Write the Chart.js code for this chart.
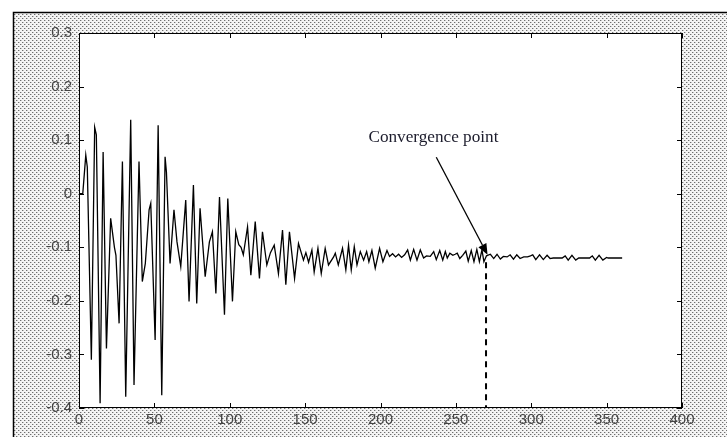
<!DOCTYPE html>
<html>
<head>
<meta charset="utf-8">
<script src="https://cdn.jsdelivr.net/npm/chart.js@4"></script>
<style>
    html, body { margin: 0; padding: 0; background: #fff; }
    canvas { display: block; }
</style>
</head>
<body>
<canvas id="convergenceChart" width="727" height="437"></canvas>
<script>
        // Datos (extremos de la oscilacion)
        const sampleX = [
            0, 2.5, 4.5, 5.5, 8.2, 10.4, 11.5, 14, 16, 18.2,
            21, 23.5, 24.5, 26.6, 28.8, 31, 34.3, 36.5, 39.8, 42,
            44, 46.5, 47.6, 50.5, 52.5, 54.9, 57.1, 58, 60.4, 63,
            65, 67.5, 70.8, 73, 75.9, 78.1, 80.3, 83.7, 86.5, 88.5,
            90.8, 93.2, 96.5, 98.7, 101.8, 104, 106, 107.5, 109, 111.8,
            114, 116.9, 119.7, 121.7, 124.6, 127, 129.5, 132.3, 135, 137.2,
            139.6, 143, 145.6, 148.9, 150.5, 152.3, 154.5, 156, 158.5, 160.7,
            163.3, 165.5, 168.9, 170, 172, 174.8, 177, 178.8, 180.6, 182.6,
            184.4, 186.6, 188.8, 190.8, 192.3, 194.3, 196.5, 199.4, 201.6, 204.3,
            206, 208, 210, 212, 214, 216, 218, 219.8, 222, 224.2,
            226.4, 228.6, 230.5, 233, 235.3, 237, 239.3, 241.3, 243, 244.3,
            246, 248, 249.5, 250.9, 252.6, 254.5, 256.6, 258.2, 260.2, 262,
            263.9, 265.6, 267.3, 268.6, 270.3, 272.9, 275.1, 277.3, 279.5, 281.5,
            284, 286, 288.2, 290.4, 292.6, 295, 297.5, 299.5, 301, 303,
            305.5, 308, 310.5, 312.5, 314.5, 320.5, 322.5, 324.5, 327, 329.5,
            331.5, 333, 338.7, 340.5, 342.5, 345, 347.5, 350, 351, 360.3
        ];
        const sampleY = [
            0.0, 0.0, 0.072, 0.05, -0.31, 0.124, 0.11, -0.391, 0.078, -0.289,
            -0.046, -0.1, -0.115, -0.242, 0.06, -0.379, 0.138, -0.357, 0.06, -0.164,
            -0.13, -0.03, -0.018, -0.273, 0.128, -0.376, 0.069, 0.04, -0.13, -0.03,
            -0.09, -0.136, -0.012, -0.201, 0.016, -0.205, -0.027, -0.155, -0.09, -0.071,
            -0.186, -0.006, -0.226, -0.009, -0.201, -0.071, -0.095, -0.1, -0.114, -0.062,
            -0.152, -0.052, -0.158, -0.071, -0.133, -0.11, -0.096, -0.149, -0.068, -0.17,
            -0.071, -0.158, -0.093, -0.124, -0.11, -0.128, -0.105, -0.146, -0.102, -0.149,
            -0.102, -0.133, -0.118, -0.111, -0.133, -0.102, -0.142, -0.096, -0.142, -0.099,
            -0.133, -0.108, -0.124, -0.108, -0.127, -0.106, -0.139, -0.102, -0.127, -0.106,
            -0.117, -0.112, -0.118, -0.113, -0.119, -0.114, -0.105, -0.124, -0.104, -0.124,
            -0.105, -0.12, -0.116, -0.117, -0.108, -0.123, -0.106, -0.124, -0.108, -0.12,
            -0.111, -0.115, -0.113, -0.111, -0.121, -0.115, -0.107, -0.126, -0.106, -0.127,
            -0.104, -0.127, -0.105, -0.127, -0.116, -0.113, -0.121, -0.113, -0.122, -0.117,
            -0.118, -0.114, -0.122, -0.114, -0.121, -0.118, -0.118, -0.116, -0.114, -0.123,
            -0.114, -0.123, -0.115, -0.121, -0.12, -0.12, -0.116, -0.124, -0.115, -0.124,
            -0.12, -0.12, -0.12, -0.116, -0.124, -0.115, -0.124, -0.119, -0.12, -0.12
        ];

        // Etiquetas de los ejes
        const xTicks = [0, 50, 100, 150, 200, 250, 300, 350, 400];
        const yTicks = [-0.4, -0.3, -0.2, -0.1, 0, 0.1, 0.2, 0.3];

        // Anotacion (coordenadas en unidades de datos)
        const convergenceX = 270;
        const convergenceY = -0.128;
        const arrowFrom = { x: 237, y: 0.068 };
        const arrowTo = { x: 271, y: -0.114 };
        const labelText = 'Convergence point';
        const labelAt = { x: 192, y: 0.097 };

        // Fondo punteado (trama de semitono)
        function makeDotPattern(ctx) {
            const tile = document.createElement('canvas');
            tile.width = 4;
            tile.height = 4;
            const t = tile.getContext('2d');
            t.fillStyle = '#f4f4f4';
            t.fillRect(0, 0, 4, 4);
            t.fillStyle = '#6e6e6e';
            t.fillRect(0, 0, 1, 1);
            t.fillRect(2, 2, 1, 1);
            t.fillStyle = '#c4c4c4';
            t.fillRect(1, 0, 1, 1);
            t.fillRect(3, 2, 1, 1);
            return ctx.createPattern(tile, 'repeat');
        }

        const framePlugin = {
            id: 'framePlugin',
            beforeDraw(chart) {
                const ctx = chart.ctx;
                const area = chart.chartArea;
                ctx.save();
                ctx.fillStyle = '#ffffff';
                ctx.fillRect(0, 0, chart.width, chart.height);
                ctx.fillStyle = makeDotPattern(ctx);
                ctx.fillRect(13, 12, chart.width - 13, chart.height - 12);
                ctx.strokeStyle = '#000';
                ctx.lineWidth = 1.5;
                ctx.beginPath();
                ctx.moveTo(13.5, chart.height);
                ctx.lineTo(13.5, 12.5);
                ctx.lineTo(chart.width, 12.5);
                ctx.stroke();
                ctx.fillStyle = '#ffffff';
                ctx.fillRect(area.left, area.top, area.right - area.left, area.bottom - area.top);
                ctx.restore();
            },
            afterDatasetsDraw(chart) {
                const ctx = chart.ctx;
                const area = chart.chartArea;
                const xs = chart.scales.x;
                const ys = chart.scales.y;
                ctx.save();

                // Caja y marcas hacia dentro
                ctx.strokeStyle = '#000';
                ctx.lineWidth = 1;
                ctx.strokeRect(area.left + 0.5, area.top + 0.5, area.right - area.left - 1, area.bottom - area.top - 1);
                ctx.beginPath();
                xTicks.forEach(v => {
                    const px = Math.round(xs.getPixelForValue(v)) + 0.5;
                    ctx.moveTo(px, area.bottom);
                    ctx.lineTo(px, area.bottom - 5);
                    ctx.moveTo(px, area.top);
                    ctx.lineTo(px, area.top + 5);
                });
                yTicks.forEach(v => {
                    const py = Math.round(ys.getPixelForValue(v)) + 0.5;
                    ctx.moveTo(area.left, py);
                    ctx.lineTo(area.left + 5, py);
                    ctx.moveTo(area.right, py);
                    ctx.lineTo(area.right - 5, py);
                });
                ctx.stroke();

                // Linea discontinua vertical
                const cx = xs.getPixelForValue(convergenceX);
                ctx.lineWidth = 2;
                ctx.setLineDash([6, 5]);
                ctx.beginPath();
                ctx.moveTo(cx, ys.getPixelForValue(convergenceY));
                ctx.lineTo(cx, area.bottom);
                ctx.stroke();
                ctx.setLineDash([]);

                // Flecha
                const x0 = xs.getPixelForValue(arrowFrom.x);
                const y0 = ys.getPixelForValue(arrowFrom.y);
                const x1 = xs.getPixelForValue(arrowTo.x);
                const y1 = ys.getPixelForValue(arrowTo.y);
                const ang = Math.atan2(y1 - y0, x1 - x0);
                const headLen = 11;
                const headHalf = 4.5;
                const bx = x1 - headLen * Math.cos(ang);
                const by = y1 - headLen * Math.sin(ang);
                ctx.lineWidth = 1.3;
                ctx.beginPath();
                ctx.moveTo(x0, y0);
                ctx.lineTo(bx, by);
                ctx.stroke();
                ctx.fillStyle = '#000';
                ctx.beginPath();
                ctx.moveTo(x1, y1);
                ctx.lineTo(bx + headHalf * Math.sin(ang), by - headHalf * Math.cos(ang));
                ctx.lineTo(bx - headHalf * Math.sin(ang), by + headHalf * Math.cos(ang));
                ctx.closePath();
                ctx.fill();

                // Texto
                ctx.fillStyle = '#1c1c2c';
                ctx.font = '17.2px "Liberation Serif"';
                ctx.textAlign = 'left';
                ctx.textBaseline = 'alphabetic';
                ctx.fillText(labelText, xs.getPixelForValue(labelAt.x), ys.getPixelForValue(labelAt.y));
                ctx.restore();
            }
        };

        const tickFont = { family: '"Liberation Sans", Arial, sans-serif', size: 15 };

        const ctx = document.getElementById('convergenceChart').getContext('2d');
        const convergenceChart = new Chart(ctx, {
            type: 'line',
            data: {
                datasets: [{
                    data: sampleX.map((x, i) => ({ x: x, y: sampleY[i] })),
                    borderColor: '#000',
                    borderWidth: 1.3,
                    pointRadius: 0,
                    fill: false,
                    tension: 0
                }]
            },
            options: {
                responsive: false,
                animation: false,
                devicePixelRatio: 1,
                layout: {
                    padding: { left: 0, top: 33, right: 45, bottom: 0 }
                },
                plugins: {
                    legend: { display: false },
                    tooltip: { enabled: false }
                },
                scales: {
                    x: {
                        type: 'linear',
                        min: 0,
                        max: 400,
                        afterBuildTicks: scale => { scale.ticks = xTicks.map(v => ({ value: v })); },
                        afterFit: scale => { scale.height = 29; },
                        grid: { display: false, drawTicks: false },
                        border: { display: false },
                        ticks: {
                            font: tickFont,
                            color: '#444',
                            padding: 3,
                            maxRotation: 0,
                            autoSkip: false
                        }
                    },
                    y: {
                        type: 'linear',
                        min: -0.4,
                        max: 0.3,
                        afterBuildTicks: scale => { scale.ticks = yTicks.map(v => ({ value: v })); },
                        afterFit: scale => { scale.width = 79; },
                        grid: { display: false, drawTicks: false },
                        border: { display: false },
                        ticks: {
                            font: tickFont,
                            color: '#444',
                            padding: 7,
                            autoSkip: false,
                            callback: function(value) {
                                return String(Number(value.toFixed(1)));
                            }
                        }
                    }
                }
            },
            plugins: [framePlugin]
        });
</script>
</body>
</html>
